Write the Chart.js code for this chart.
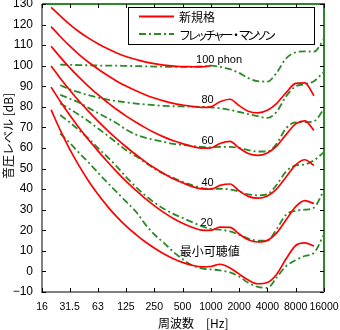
<!DOCTYPE html>
<html><head><meta charset="utf-8">
<script src="https://cdn.jsdelivr.net/npm/chart.js@4/dist/chart.umd.min.js"></script>
<style>html,body{margin:0;padding:0;background:#fff}</style>
</head><body>
<canvas id="c" width="340" height="330" style="display:block;width:340px;height:330px"></canvas>
<script>
// ---- data ----
const freqISO = [20,25,31.5,40,50,63,80,100,125,160,200,250,315,400,500,630,800,1000,1250,1600,2000,2500,3150,4000,5000,6300,8000,10000,12500];
const isoThreshold = [78.5,68.7,59.5,51.1,44.0,37.5,31.5,26.5,22.1,17.9,14.4,11.4,8.6,6.2,4.4,3.0,2.2,2.4,3.5,1.7,-1.3,-4.2,-6.0,-5.4,-1.5,6.0,12.6,13.9,12.3];
const iso20 = [89.6,82.7,76.0,69.6,64.0,58.6,53.2,48.4,43.9,39.4,35.5,32.0,28.7,25.7,23.4,21.5,20.1,20.0,21.5,21.4,18.2,15.4,14.3,15.1,18.6,25.0,31.5,34.4,33.0];
const iso40 = [99.9,93.9,88.2,82.6,77.8,73.1,68.5,64.4,60.6,56.7,53.4,50.4,47.6,45.0,43.1,41.3,40.1,40.0,41.8,42.5,39.2,36.5,35.6,36.7,40.0,45.8,51.8,54.3,51.5];
const iso60 = [109.5,104.2,99.1,94.2,90.0,85.9,82.1,78.7,75.6,72.5,69.9,67.5,65.4,63.5,62.1,60.8,59.9,60.0,62.2,63.2,60.0,57.3,56.4,57.6,60.9,66.4,71.7,73.2,68.6];
const iso80 = [119.0,114.2,109.6,105.3,101.7,98.4,95.2,92.5,90.1,87.8,85.9,84.3,82.9,81.7,80.9,80.2,79.7,80.0,82.5,83.7,80.6,77.9,77.1,78.3,81.6,86.8,91.4,91.7,85.4];
const iso100 = [128.4,124.2,120.1,116.4,113.4,110.7,108.2,106.2,104.5,103.0,101.9,101.0,100.3,99.8,99.6,99.5,99.4,100.0];

const freqFM = [25,31.5,40,50,63,80,100,125,160,200,250,315,400,500,630,800,1000,1250,1600,2000,2500,3150,4000,5000,6300,8000,10000,12500,16000];
const fmThreshold = [67,62.5,57.5,53,48,43,38.5,34,29,23,18,14,9.5,6,3,1.5,1,0.5,-0.5,-2.5,-5.5,-7.5,-8,-3,2.5,5.5,7.5,9,18];
const fm20 = [76,72.5,68.5,64.5,60,55.5,51,46,41,37,33.5,30.5,28,26,24,22,20.7,20.3,19.5,17.8,16,15,15,20.5,27.5,29.5,30,31,39.5];
const fm40 = [81.7,79,76,73,69.5,66,62.5,59,56,53,50,47.5,45.5,43.5,42,40.5,40.2,40.2,39.8,38.8,37.5,37,37.5,42,48.5,51.5,52,54,58];
const fm60 = [85.8,84,82,79.5,77,74.5,72,69,66.5,65,64,63,62,61.5,61,60.5,60.3,60.5,60.5,60,59,58.3,58.3,62,69.5,72.5,72.5,73,79];
const fm80 = [90.5,88.5,87,85.7,84.5,83.5,82.8,82.2,81.6,81.2,80.8,80.5,80.3,80.2,80.1,80,79.8,79.3,78.5,77.5,76.5,75.5,74.6,77.5,85,90,91,92.5,97];
const fm100 = [100.5,100.4,100.3,100.2,100.1,100,100,99.9,99.8,99.7,99.6,99.5,99.4,99.4,99.5,99.7,100,99.5,98.3,96.5,94,92.5,92.3,96.5,103.5,106.5,107,106.8,113];

const xTickValues = [16,31.5,63,125,250,500,1000,2000,4000,8000,16000];
const xTickLabels = ['16','31.5','63','125','250','500','1000','2000','4000','8000','16000'];
const yTickValues = [-10,0,10,20,30,40,50,60,70,80,90,100,110,120,130];
const yTickLabels = ['\u221210','0','10','20','30','40','50','60','70','80','90','100','110','120','130'];

const legendLabels = ['新規格','フレッチャー・マンソン'];
const curveLabels = [
  {text:'100 phon', f:1224, db:103},
  {text:'80', f:924, db:83.3},
  {text:'60', f:924, db:63.4},
  {text:'40', f:924, db:43.1},
  {text:'20', f:905, db:23.6},
  {text:'最小可聴値', f:975, db:9.8}
];
const xTitle = '周波数　[Hz]';
const yTitle = '音圧レベル [dB]';

// ---- styles ----
const RED = '#ff0000';
const GREEN = '#2a8a2a';
const DASH = [7,3,2,3];
const LATIN = '"Liberation Sans", Arial, sans-serif';
const CJK = '"Noto Sans CJK JP", "Noto Sans", sans-serif';

function pts(fs, vs){ return vs.map((v,i)=>({x:fs[i], y:v})); }
function redDs(vs){ return {data:pts(freqISO, vs), borderColor:RED, borderWidth:1.7, pointRadius:0, cubicInterpolationMode:'monotone', fill:false}; }
function greenDs(vs){ return {data:pts(freqFM, vs), borderColor:GREEN, borderWidth:1.8, borderDash:DASH, pointRadius:0, cubicInterpolationMode:'monotone', fill:false}; }

const decor = {
  id:'decor',
  afterDraw(chart){
    const ctx = chart.ctx, a = chart.chartArea;
    const xs = chart.scales.x, ys = chart.scales.y;
    ctx.save();
    // frame
    ctx.lineWidth = 2;
    ctx.strokeStyle = GREEN;
    ctx.beginPath(); ctx.moveTo(a.left, a.top); ctx.lineTo(a.right, a.top); ctx.lineTo(a.right, a.bottom); ctx.stroke();
    ctx.strokeStyle = '#808080';
    ctx.beginPath(); ctx.moveTo(a.left, a.top); ctx.lineTo(a.left, a.bottom); ctx.lineTo(a.right, a.bottom); ctx.stroke();
    // inward ticks
    ctx.lineWidth = 1; ctx.strokeStyle = '#000';
    ctx.beginPath();
    xs.ticks.forEach(t=>{
      const px = Math.round(xs.getPixelForValue(t.value))+0.5;
      ctx.moveTo(px, a.bottom); ctx.lineTo(px, a.bottom-4);
      ctx.moveTo(px, a.top); ctx.lineTo(px, a.top+4);
    });
    ys.ticks.forEach(t=>{
      const py = Math.round(ys.getPixelForValue(t.value))+0.5;
      ctx.moveTo(a.left, py); ctx.lineTo(a.left+4, py);
      ctx.moveTo(a.right, py); ctx.lineTo(a.right-4, py);
    });
    ctx.stroke();
    // curve labels
    ctx.fillStyle = '#000'; ctx.textAlign = 'center'; ctx.textBaseline = 'middle';
    curveLabels.forEach(l=>{
      const cjk = /[^\x00-\x7f]/.test(l.text);
      ctx.font = cjk ? '12px '+CJK : '11px '+LATIN;
      ctx.fillText(l.text, xs.getPixelForValue(l.f), ys.getPixelForValue(l.db));
    });
    // legend
    const bx = a.left + 86, by = a.top + 3, bw = 186, bh = 37;
    ctx.fillStyle = '#fff'; ctx.fillRect(bx, by, bw, bh);
    ctx.strokeStyle = '#000'; ctx.lineWidth = 1;
    ctx.strokeRect(Math.round(bx)+0.5, Math.round(by)+0.5, bw, bh);
    const rows = [{c:RED, d:[], y:by+9.5}, {c:GREEN, d:DASH, y:by+27}];
    rows.forEach((r,i)=>{
      ctx.strokeStyle = r.c; ctx.lineWidth = 1.8; ctx.setLineDash(r.d);
      ctx.beginPath(); ctx.moveTo(bx+11, r.y); ctx.lineTo(bx+46, r.y); ctx.stroke();
      ctx.setLineDash([]);
      ctx.fillStyle = '#000'; ctx.textAlign = 'left'; ctx.textBaseline = 'middle';
      ctx.font = '12px '+CJK;
      if ('letterSpacing' in ctx) ctx.letterSpacing = i===1 ? '-3.5px' : '0px';
      ctx.fillText(legendLabels[i], bx+51, r.y+1);
      if ('letterSpacing' in ctx) ctx.letterSpacing = '0px';
    });
    // axis titles
    ctx.fillStyle = '#000'; ctx.font = '12px '+CJK; ctx.textBaseline = 'middle'; ctx.textAlign = 'left';
    ctx.fillText(xTitle, a.left + 116, a.bottom + 31);
    ctx.save();
    ctx.translate(8, a.top + 175); ctx.rotate(-Math.PI/2);
    ctx.fillText(yTitle, 0, 0);
    ctx.restore();
    ctx.restore();
  }
};

new Chart(document.getElementById('c'), {
  type:'line',
  data:{ datasets:[
    redDs(isoThreshold), redDs(iso20), redDs(iso40), redDs(iso60), redDs(iso80), redDs(iso100),
    greenDs(fmThreshold), greenDs(fm20), greenDs(fm40), greenDs(fm60), greenDs(fm80), greenDs(fm100)
  ]},
  options:{
    responsive:false, animation:false, devicePixelRatio:1,
    layout:{padding:{left:0, right:16, top:4, bottom:0}},
    plugins:{legend:{display:false}, tooltip:{enabled:false}},
    scales:{
      x:{type:'logarithmic', min:16, max:16000,
         afterBuildTicks(s){ s.ticks = xTickValues.map(v=>({value:v})); },
         afterFit(s){ s.height = 38; s.paddingLeft = 0; s.paddingRight = 0; },
         grid:{display:false, drawTicks:false}, border:{display:false},
         ticks:{autoSkip:false, maxRotation:0, padding:9, color:'#000', font:{family:LATIN, size:10.5},
                callback:(v,i)=>xTickLabels[i]}},
      y:{type:'linear', min:-10, max:130,
         afterBuildTicks(s){ s.ticks = yTickValues.map(v=>({value:v})); },
         afterFit(s){ s.width = 42; s.paddingTop = 0; s.paddingBottom = 0; },
         grid:{display:false, drawTicks:false}, border:{display:false},
         ticks:{padding:9, color:'#000', font:{family:LATIN, size:12},
                callback:(v,i)=>yTickLabels[i]}}
    }
  },
  plugins:[decor]
});
</script>
</body></html>
